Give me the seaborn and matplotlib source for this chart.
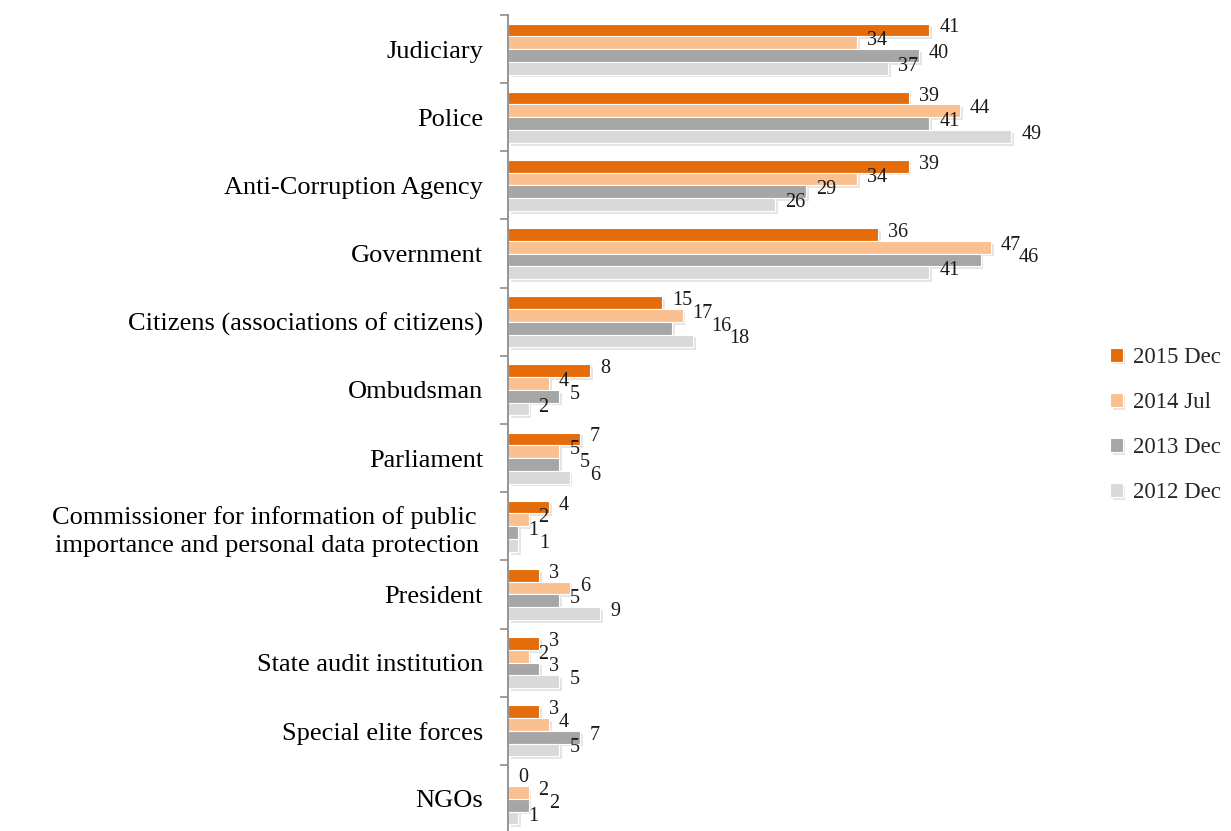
import matplotlib
matplotlib.use("Agg")
import matplotlib.pyplot as plt
import matplotlib.patheffects as pe
from matplotlib.ticker import FixedLocator, NullFormatter
import seaborn as sns
import pandas as pd
import numpy as np

categories = [
    "Judiciary",
    "Police",
    "Anti-Corruption Agency",
    "Government",
    "Citizens (associations of citizens)",
    "Ombudsman",
    "Parliament",
    "Commissioner for information of public \nimportance and personal data protection",
    "President",
    "State audit institution",
    "Special elite forces",
    "NGOs",
]
series = ["2015 Dec", "2014 Jul", "2013 Dec", "2012 Dec"]
v2015_dec = [41, 39, 39, 36, 15, 8, 7, 4, 3, 3, 3, 0]
v2014_jul = [34, 44, 34, 47, 17, 4, 5, 2, 6, 2, 4, 2]
v2013_dec = [40, 41, 29, 46, 16, 5, 5, 1, 5, 3, 7, 2]
v2012_dec = [37, 49, 26, 41, 18, 2, 6, 1, 9, 5, 5, 1]
colors = ["#E46C0A", "#FAC090", "#A6A6A6", "#D9D9D9"]

values = [v2015_dec, v2014_jul, v2013_dec, v2012_dec]
df = pd.DataFrame({
    "category": np.tile(categories, len(series)),
    "series": np.repeat(series, len(categories)),
    "value": np.concatenate(values),
})

sns.set_theme(style="white")
plt.rcParams["font.family"] = ["Liberation Serif", "DejaVu Serif"]

W, H = 1231, 831
fig = plt.figure(figsize=(W / 100, H / 100), dpi=100)
ax = fig.add_axes([508 / W, 1 - 833 / H, (1073 - 508) / W, (833 - 15) / H])

sns.barplot(data=df, y="category", x="value", hue="series", orient="h",
            palette=colors, width=0.75, order=categories, hue_order=series,
            ax=ax, saturation=1, legend=True)

# soft drop shadow under each bar, with a thin white rim
shadow = [pe.SimplePatchShadow(offset=(2, -2), shadow_rgbFace="#9a9a9a", alpha=0.25),
          pe.Normal()]
for patch in ax.patches:
    patch.set_edgecolor("white")
    patch.set_linewidth(0.8)
    patch.set_path_effects(shadow)

ax.set_xlim(0, 55)
ax.set_ylim(len(categories) - 0.5, -0.5)

# value labels: start a little right of each bar end; when two neighbouring
# labels in a group would collide, push the lower one further right
px_per_unit = ax.transData.transform((1, 0))[0] - ax.transData.transform((0, 0))[0]
label_size = 14.5
digit_px = 7.6
base_pad = 10.0
prev_span = {}
for cont, vals in zip(ax.containers, values):
    for patch, v in zip(cont.patches, vals):
        y = patch.get_y() + patch.get_height() / 2
        cat = int(round(y))
        txt = str(v)
        start = v * px_per_unit + base_pad
        width = digit_px * len(txt)
        if cat in prev_span:
            p0, p1 = prev_span[cat]
            if start < p1 + 2 and start + width > p0 - 2:
                start = p1 + 3
        prev_span[cat] = (start, start + width)
        ax.annotate(txt, xy=(v, y), xytext=(start - v * px_per_unit, 2),
                    textcoords="offset pixels", ha="left", va="center",
                    fontsize=label_size, color="#1a1a1a")

ax.set_xlabel("")
ax.set_ylabel("")
ax.set_xticks([])

ax.tick_params(axis="y", which="major", length=0, pad=18, labelsize=19,
               labelcolor="black")
ax.yaxis.set_minor_locator(FixedLocator(np.arange(-0.5, len(categories), 1.0)))
ax.yaxis.set_minor_formatter(NullFormatter())
ax.tick_params(axis="y", which="minor", length=6, width=1.2, color="#8c8c8c",
               direction="out", left=True)
for lbl in ax.get_yticklabels():
    lbl.set_multialignment("center")
    lbl.set_linespacing(1.35)

for side in ["top", "right", "bottom"]:
    ax.spines[side].set_visible(False)
ax.spines["left"].set_color("#8c8c8c")
ax.spines["left"].set_linewidth(1.3)

handles, labels = ax.get_legend_handles_labels()
ax.get_legend().remove()
fig.legend(handles, labels, loc="center left", bbox_to_anchor=(1094 / W, 1 - 425 / H),
           frameon=False, fontsize=16.5, handlelength=0.55, handleheight=0.55,
           handletextpad=0.45, labelspacing=1.05, borderpad=0.2)

fig.savefig("out.png", dpi=100)
